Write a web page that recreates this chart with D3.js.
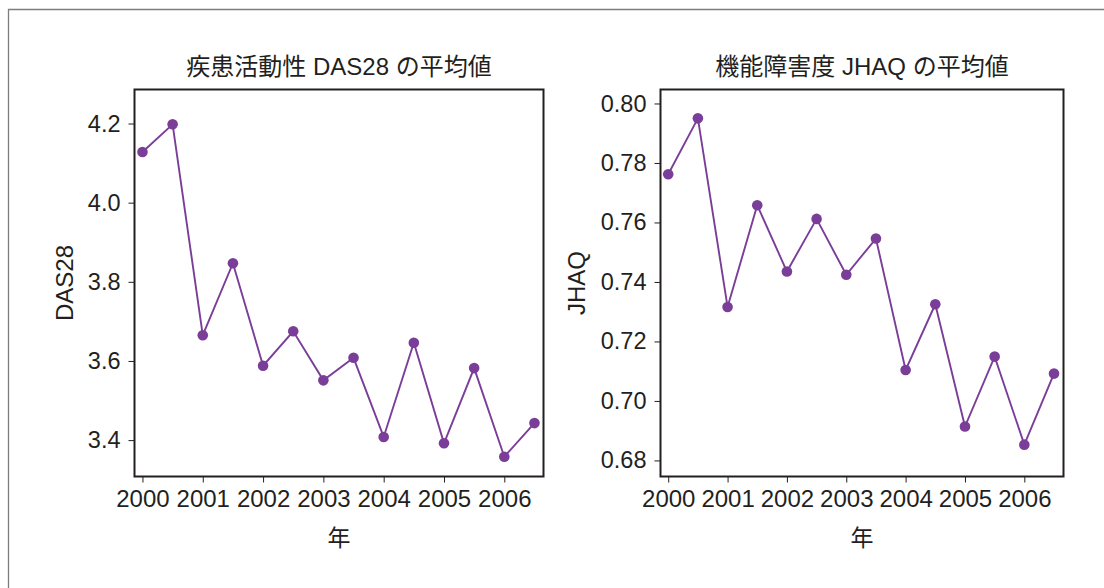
<!DOCTYPE html>
<html>
<head>
<meta charset="utf-8">
<script src="https://cdn.jsdelivr.net/npm/d3@7"></script>
<style>
  body { margin: 0; background: #fff; }
  text { font-family: "Liberation Sans", "Noto Sans CJK JP", sans-serif; fill: #231f20; }
</style>
</head>
<body>
<svg id="chart" width="1104" height="588"></svg>
<script>
// Survey rounds, twice a year
const halfYears = [2000, 2000.5, 2001, 2001.5, 2002, 2002.5, 2003, 2003.5,
                   2004, 2004.5, 2005, 2005.5, 2006, 2006.5];

// Mean disease activity (DAS28) per round
const das28Means = [4.128, 4.198, 3.665, 3.847, 3.588, 3.675, 3.551, 3.608,
                    3.408, 3.646, 3.392, 3.582, 3.358, 3.443];

// Mean functional disability (J-HAQ) per round
const jhaqMeans = [0.7762, 0.7950, 0.7316, 0.7658, 0.7435, 0.7612, 0.7424, 0.7546,
                   0.7104, 0.7325, 0.6914, 0.7149, 0.6853, 0.7092];

const yearTicks = [2000, 2001, 2002, 2003, 2004, 2005, 2006];
const das28Ticks = [3.4, 3.6, 3.8, 4.0, 4.2];
const jhaqTicks = [0.68, 0.70, 0.72, 0.74, 0.76, 0.78, 0.80];

const panelTitles = ["疾患活動性 DAS28 の平均値", "機能障害度 JHAQ の平均値"];
const yTitles = ["DAS28", "JHAQ"];
const xTitle = "年";

const purple = "#7a3e98";
const ink = "#231f20";

const svg = d3.select("#chart");

// Outer frame: only the left and top edges fall inside the canvas
svg.append("path")
  .attr("d", "M8.5,588 V9.5 H1104")
  .attr("fill", "none")
  .attr("stroke", "#7d7d7d")
  .attr("stroke-width", 1.3);

const panels = [
  { left: 134.5, right: 543.5, top: 89.5, bottom: 476.5,
    xDomain: [1999.868, 2006.65], yDomain: [3.308, 4.286],
    values: das28Means, ticks: das28Ticks, fmt: d3.format(".1f"),
    title: panelTitles[0], yTitle: yTitles[0], yTitleX: 73 },
  { left: 660.5, right: 1063.5, top: 89.5, bottom: 476.5,
    xDomain: [1999.87, 2006.66], yDomain: [0.6746, 0.8047],
    values: jhaqMeans, ticks: jhaqTicks, fmt: d3.format(".2f"),
    title: panelTitles[1], yTitle: yTitles[1], yTitleX: 585 }
];

panels.forEach(p => {
  const x = d3.scaleLinear().domain(p.xDomain).range([p.left, p.right]);
  const y = d3.scaleLinear().domain(p.yDomain).range([p.bottom, p.top]);
  const g = svg.append("g");
  const cx = (p.left + p.right) / 2;
  const cy = (p.top + p.bottom) / 2;

  // Y axis
  const ya = g.append("g")
    .attr("transform", `translate(${p.left},0)`)
    .call(d3.axisLeft(y).tickValues(p.ticks).tickFormat(p.fmt).tickSize(6).tickPadding(8));
  ya.select(".domain").remove();
  ya.selectAll(".tick line").attr("stroke", ink).attr("stroke-width", 1);
  ya.selectAll(".tick text")
    .attr("font-size", 23.5)
    .attr("font-family", "Liberation Sans, sans-serif")
    .attr("fill", ink);

  // X axis
  const xa = g.append("g")
    .attr("transform", `translate(0,${p.bottom})`)
    .call(d3.axisBottom(x).tickValues(yearTicks).tickFormat(d3.format("d")).tickSize(6).tickPadding(7));
  xa.select(".domain").remove();
  xa.selectAll(".tick line").attr("stroke", ink).attr("stroke-width", 1);
  xa.selectAll(".tick text")
    .attr("font-size", 24)
    .attr("font-family", "Liberation Sans, sans-serif")
    .attr("fill", ink);

  // Plot box
  g.append("rect")
    .attr("x", p.left).attr("y", p.top)
    .attr("width", p.right - p.left).attr("height", p.bottom - p.top)
    .attr("fill", "none").attr("stroke", ink).attr("stroke-width", 2);

  // Series line and markers
  const pts = halfYears.map((t, i) => [t, p.values[i]]);
  g.append("path")
    .datum(pts)
    .attr("fill", "none")
    .attr("stroke", purple)
    .attr("stroke-width", 1.9)
    .attr("d", d3.line().x(d => x(d[0])).y(d => y(d[1])));
  g.selectAll("circle.pt")
    .data(pts)
    .join("circle")
    .attr("class", "pt")
    .attr("cx", d => x(d[0]))
    .attr("cy", d => y(d[1]))
    .attr("r", 5.3)
    .attr("fill", purple);

  // Titles
  g.append("text")
    .attr("x", cx).attr("y", 75)
    .attr("text-anchor", "middle")
    .attr("font-size", 24)
    .text(p.title);
  g.append("text")
    .attr("transform", `translate(${p.yTitleX},${cy}) rotate(-90)`)
    .attr("text-anchor", "middle")
    .attr("font-size", 24)
    .text(p.yTitle);
  g.append("text")
    .attr("x", cx).attr("y", 546)
    .attr("text-anchor", "middle")
    .attr("font-size", 23)
    .text(xTitle);
});
</script>
</body>
</html>
